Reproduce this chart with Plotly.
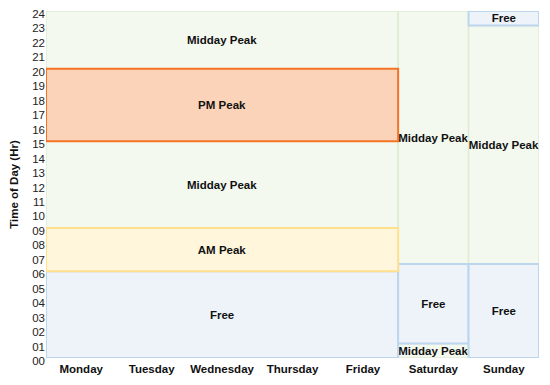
import plotly.graph_objects as go

days = ["Monday", "Tuesday", "Wednesday", "Thursday", "Friday", "Saturday", "Sunday"]
hour_labels = [f"{h:02d}" for h in range(25)]

# Segments: label, first day index, last day index (exclusive), start hour, end hour, kind
seg_labels = ["Free", "AM Peak", "Midday Peak", "PM Peak", "Midday Peak",
              "Midday Peak", "Free", "Midday Peak",
              "Free", "Midday Peak", "Free"]
seg_day0 = [0, 0, 0, 0, 0, 5, 5, 5, 6, 6, 6]
seg_day1 = [5, 5, 5, 5, 5, 6, 6, 6, 7, 7, 7]
seg_h0 = [0, 6, 9, 15, 20, 0, 1, 6.5, 0, 6.5, 23]
seg_h1 = [6, 9, 15, 20, 24, 1, 6.5, 24, 6.5, 23, 24]
seg_kind = ["free", "am", "mid", "pm", "mid", "mid", "free", "mid", "free", "mid", "free"]

styles = {
    "mid": dict(fill="#f4f9f0", line="#ddecd2", lw=1.5),
    "free": dict(fill="#eef3fa", line="#bcd6ee", lw=2),
    "am": dict(fill="#fff6dc", line="#ffe08c", lw=2),
    "pm": dict(fill="#fbd3b8", line="#f47424", lw=2),
}
draw_order = ["mid", "free", "am", "pm"]

fig = go.Figure()
for kind in draw_order:
    idx = [i for i, k in enumerate(seg_kind) if k == kind]
    st = styles[kind]
    fig.add_trace(go.Bar(
        x=[(seg_day0[i] + seg_day1[i]) / 2 for i in idx],
        width=[seg_day1[i] - seg_day0[i] for i in idx],
        base=[seg_h0[i] for i in idx],
        y=[seg_h1[i] - seg_h0[i] for i in idx],
        text=[f"<b>{seg_labels[i]}</b>" for i in idx],
        textposition="inside",
        insidetextanchor="middle",
        textangle=0,
        constraintext="none",
        textfont=dict(family="Liberation Sans, Arial", size=11.5, color="#111111"),
        marker=dict(color=st["fill"], line=dict(color=st["line"], width=st["lw"])),
        hoverinfo="skip",
        showlegend=False,
    ))

# page body has an 8px margin, so the figure is sized to fill the rest of the window
fig.update_layout(
    width=542, height=377,
    margin=dict(l=38, r=11, t=3, b=27),
    barmode="overlay",
    plot_bgcolor="white", paper_bgcolor="white",
    font=dict(family="Liberation Sans, Arial", size=11, color="#222222"),
    xaxis=dict(range=[0, 7], tickvals=[i + 0.5 for i in range(7)],
               ticktext=[f"<b>{d}</b>" for d in days], automargin=False,
               ticklabelstandoff=2,
               showgrid=False, zeroline=False, showline=False, ticks="",
               tickfont=dict(size=11.5, color="#111111")),
    yaxis=dict(range=[0, 24], tickvals=list(range(25)), ticktext=hour_labels,
               automargin=False, ticklabelshift=3, ticklabeloverflow="allow",
               showgrid=False, zeroline=False, showline=False, ticks="",
               tickfont=dict(size=11.5, color="#222222"),
               title=dict(text="<b>Time of Day (Hr)</b>", standoff=11,
                          font=dict(size=11.5, color="#111111"))),
)

fig.write_html("out.html")
